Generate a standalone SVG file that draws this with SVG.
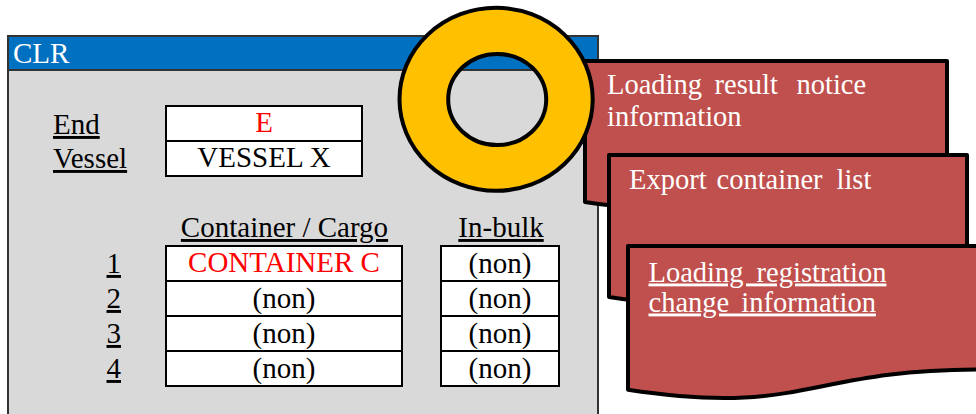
<svg xmlns="http://www.w3.org/2000/svg" width="976" height="414" viewBox="0 0 976 414" font-family="'Liberation Serif', 'Times New Roman', 'DejaVu Serif', serif">
<style>
text{font-family:'Liberation Serif','Times New Roman','DejaVu Serif',serif;font-size:29px}
.lbl{fill:#000}
.u{text-decoration:underline}
.c{text-anchor:middle}
.red{fill:#ff0000}
.cell{fill:#fff;stroke:#000;stroke-width:2}
.doc{fill:#c0504d;stroke:#000;stroke-width:4;stroke-linejoin:round}
.wt{fill:#fff}
.dt{font-size:28.5px}
</style>
<rect width="976" height="414" fill="#fff"/>
<g id="window">
<rect x="8" y="36" width="590" height="390" fill="#d9d9d9" stroke="#333" stroke-width="2"/>
<rect x="8" y="36" width="590" height="34" fill="#0070c0" stroke="#333" stroke-width="2"/>
<text x="13" y="63" class="wt">CLR</text>
</g>
<g id="header-fields">
<text x="53" y="134" class="lbl u">End</text>
<text x="53" y="168" class="lbl u">Vessel</text>
<rect x="166" y="106" width="196" height="35" class="cell"/>
<rect x="166" y="141" width="196" height="35" class="cell"/>
<text x="264" y="132" class="c red">E</text>
<text x="264" y="167" class="c">VESSEL X</text>
</g>
<g id="table">
<text x="284.5" y="237" class="c u">Container / Cargo</text>
<text x="501" y="237" class="c u">In-bulk</text>
<text x="106.5" y="273" class="u">1</text>
<text x="106.5" y="308" class="u">2</text>
<text x="106.5" y="343" class="u">3</text>
<text x="106.5" y="378" class="u">4</text>
<rect x="166" y="246" width="236" height="35" class="cell"/>
<rect x="166" y="281" width="236" height="35" class="cell"/>
<rect x="166" y="316" width="236" height="35" class="cell"/>
<rect x="166" y="351" width="236" height="35" class="cell"/>
<rect x="441" y="246" width="118" height="35" class="cell"/>
<rect x="441" y="281" width="118" height="35" class="cell"/>
<rect x="441" y="316" width="118" height="35" class="cell"/>
<rect x="441" y="351" width="118" height="35" class="cell"/>
<text x="284" y="272" class="c red">CONTAINER C</text>
<text x="284" y="307.5" class="c">(non)</text>
<text x="284" y="342.5" class="c">(non)</text>
<text x="284" y="377.5" class="c">(non)</text>
<text x="500" y="272.5" class="c">(non)</text>
<text x="500" y="307.5" class="c">(non)</text>
<text x="500" y="342.5" class="c">(non)</text>
<text x="500" y="377.5" class="c">(non)</text>
</g>
<g id="connectors"></g>
<g id="doc1">
<path class="doc" d="M585,61 L947,61 L947,182.1 C766,182.1 766,228.2 585,202 Z"/>
<text class="wt dt" y="94"><tspan x="607">Loading</tspan><tspan x="714.5">result</tspan><tspan x="796.5">notice</tspan></text>
<text class="wt dt" x="607" y="126">information</text>
</g>
<g id="doc2">
<path class="doc" d="M609,155 L967,155 L967,276.9 C788,276.9 788,323.3 609,297 Z"/>
<text class="wt dt" y="188.5"><tspan x="629">Export</tspan><tspan x="716.5">container</tspan><tspan x="836.5">list</tspan></text>
</g>
<g id="doc3">
<path class="doc" d="M628,246 L982,246 L982,369.5 C805,369.5 805,416.6 628,389.8 Z"/>
<text class="wt u dt" x="648.5" y="281.5" style="word-spacing:6px">Loading registration</text>
<text class="wt u dt" x="648.5" y="311.5" style="word-spacing:5px">change information</text>
</g>
<g id="ring">
<path fill="#ffc000" fill-rule="evenodd" stroke="#000" stroke-width="4" d="M399.5,99.3 a96.6,91.5 0 1,0 193.2,0 a96.6,91.5 0 1,0 -193.2,0 Z M448.2,99.5 a49,45.5 0 1,0 98,0 a49,45.5 0 1,0 -98,0 Z"/>
</g>
</svg>
